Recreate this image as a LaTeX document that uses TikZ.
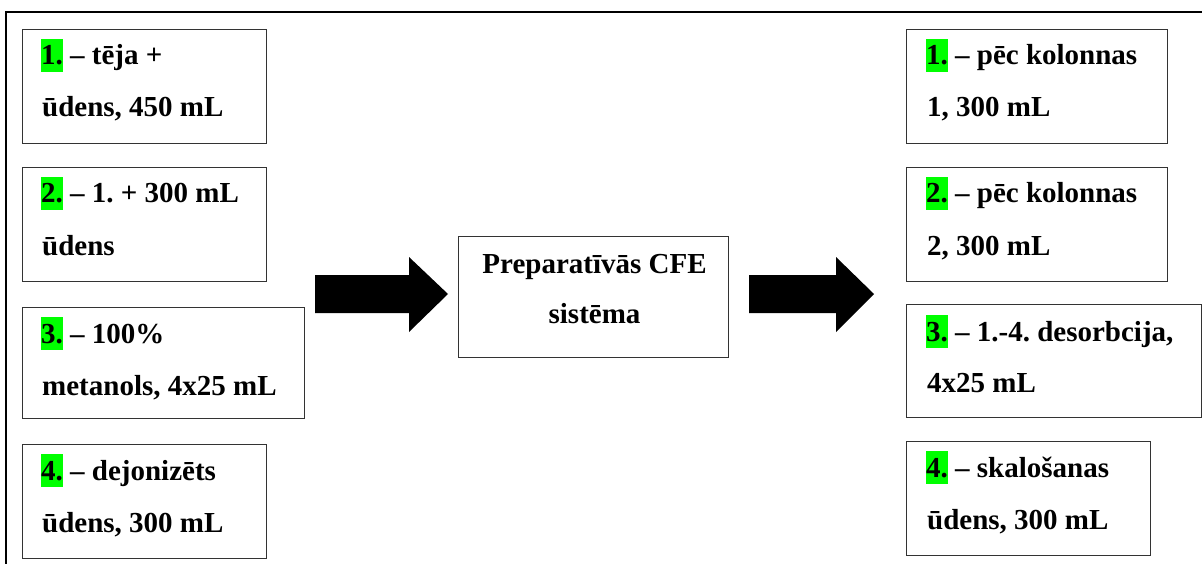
\documentclass[tikz,border=0pt]{standalone}
\usepackage{fontspec}
\setmainfont{Liberation Serif}
\usetikzlibrary{calc}
\frenchspacing
\definecolor{hlgreen}{RGB}{0,255,0}
% green highlight behind the item numbers
\newcommand\hlnum[1]{{\setlength{\fboxsep}{0pt}\colorbox{hlgreen}{\rule[-7pt]{0pt}{33pt}#1}}}
\begin{document}
\begin{tikzpicture}[x=1pt,y=-1pt,
  frame/.style={draw=black,line width=1.6pt},
  itembox/.style={draw=black!80,line width=1.1pt,anchor=north west,inner sep=0pt},
  itemtext/.style={anchor=base west,inner sep=0pt,font=\bfseries\fontsize{29}{34}\selectfont},
  hubtext/.style={anchor=base,inner sep=0pt,font=\bfseries\fontsize{29}{34}\selectfont},
  blockarrow/.style={fill=black}
]
\clip (0,0) rectangle (1202,564);
\fill[white] (0,0) rectangle (1202,564);

% outer frame (open on the right and at the bottom)
\draw[frame] (1210,12) -- (6,12) -- (6,570);

% input fractions
\node[itembox,minimum width=244,minimum height=114] (l1) at (22,29) {};
\node[itembox,minimum width=244,minimum height=114] (l2) at (22,167) {};
\node[itembox,minimum width=282,minimum height=111] (l3) at (22,307) {};
\node[itembox,minimum width=244,minimum height=114] (l4) at (22,444) {};

\node[itemtext] (l1a) at ($(l1.north west)+(19,36)$) {\hlnum{1.} – tēja +};
\node[itemtext] (l1b) at ($(l1.north west)+(20,88)$) {ūdens, 450 mL};
\node[itemtext] (l2a) at ($(l2.north west)+(19,36)$) {\hlnum{2.} – 1. + 300 mL};
\node[itemtext] (l2b) at ($(l2.north west)+(20,88)$) {ūdens};
\node[itemtext] (l3a) at ($(l3.north west)+(19,36)$) {\hlnum{3.} – 100\%};
\node[itemtext] (l3b) at ($(l3.north west)+(20,88)$) {metanols, 4x25 mL};
\node[itemtext] (l4a) at ($(l4.north west)+(19,36)$) {\hlnum{4.} – dejonizēts};
\node[itemtext] (l4b) at ($(l4.north west)+(20,88)$) {ūdens, 300 mL};

% extraction system
\node[itembox,minimum width=270,minimum height=121] (cfe) at (458,236) {};
\node[hubtext] (cfea) at ($(cfe.north)+(1,37)$) {Preparatīvās CFE};
\node[hubtext] (cfeb) at ($(cfe.north)+(1,87)$) {sistēma};

% output fractions
\node[itembox,minimum width=261,minimum height=114] (r1) at (906,29) {};
\node[itembox,minimum width=261,minimum height=114] (r2) at (906,167) {};
\node[itembox,minimum width=295,minimum height=113] (r3) at (906,304) {};
\node[itembox,minimum width=244,minimum height=114] (r4) at (906,441) {};

\node[itemtext] (r1a) at ($(r1.north west)+(20,36)$) {\hlnum{1.} – pēc kolonnas};
\node[itemtext] (r1b) at ($(r1.north west)+(21,88)$) {1, 300 mL};
\node[itemtext] (r2a) at ($(r2.north west)+(20,36)$) {\hlnum{2.} – pēc kolonnas};
\node[itemtext] (r2b) at ($(r2.north west)+(21,88)$) {2, 300 mL};
\node[itemtext] (r3a) at ($(r3.north west)+(20,37)$) {\hlnum{3.} – 1.-4. desorbcija,};
\node[itemtext] (r3b) at ($(r3.north west)+(21,88)$) {4x25 mL};
\node[itemtext] (r4a) at ($(r4.north west)+(20,36)$) {\hlnum{4.} – skalošanas};
\node[itemtext] (r4b) at ($(r4.north west)+(21,88)$) {ūdens, 300 mL};

% block arrows
\fill[blockarrow] (315,275) -- (409,275) -- (409,257) -- (448,294)
  -- (409,332) -- (409,313) -- (315,313) -- cycle;
\fill[blockarrow] (749,275) -- (836,275) -- (836,257) -- (874,294)
  -- (836,332) -- (836,313) -- (749,313) -- cycle;
\end{tikzpicture}
\end{document}
